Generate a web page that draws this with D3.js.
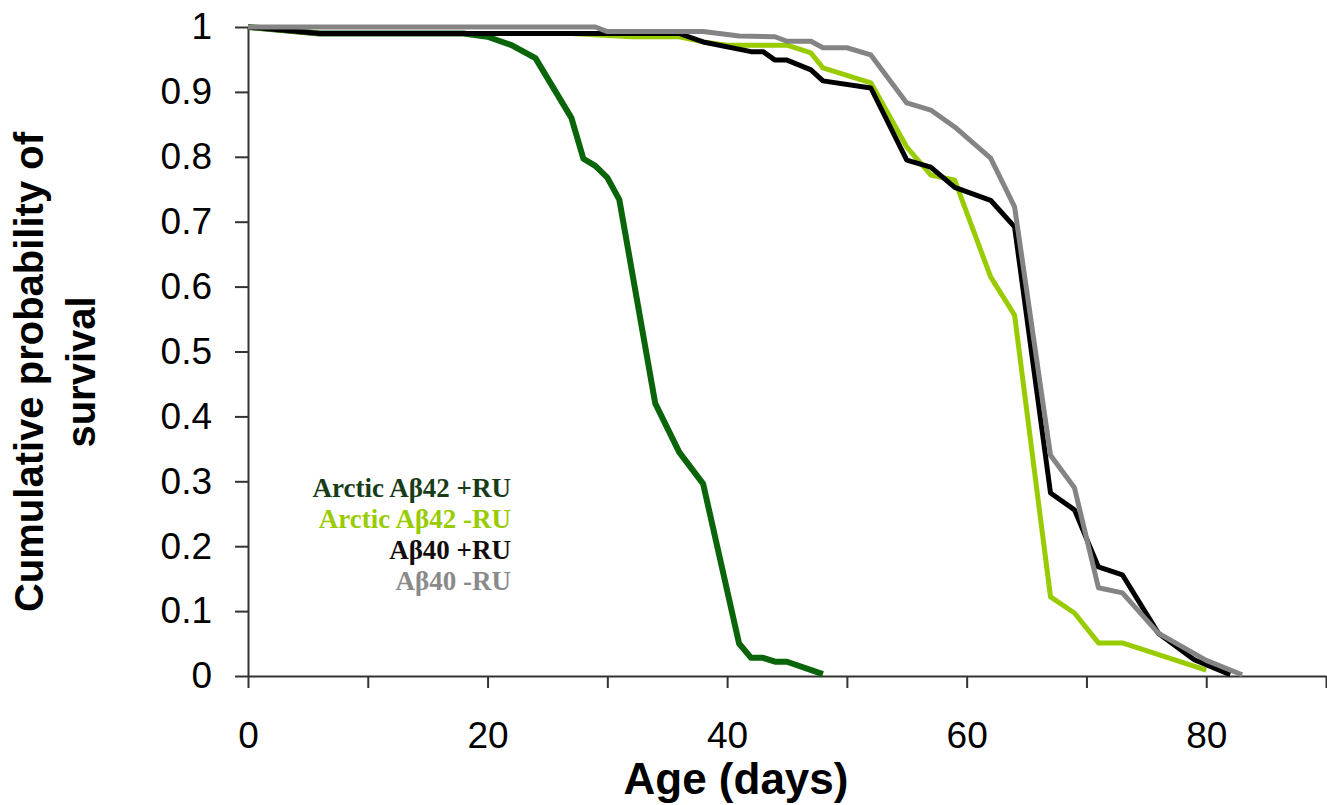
<!DOCTYPE html>
<html>
<head>
<meta charset="utf-8">
<script src="https://cdn.jsdelivr.net/npm/d3@7"></script>
<style>
    body { margin: 0; background: #fff; }
    svg { display: block; }
    .tick text { font-family: Arial, "Liberation Sans", sans-serif; font-size: 37px; fill: #000; }
    .axis path, .axis line { stroke: #333; stroke-width: 2px; }
</style>
</head>
<body>
<svg id="chart" width="1327" height="805"></svg>
<script>
// Data
const seriesNames = ["Arctic A\u03b242 +RU", "Arctic A\u03b242 -RU", "A\u03b240 +RU", "A\u03b240 -RU"]
const seriesColors = ["#0a640a", "#99cc00", "#000000", "#848484"]
const legendColors = ["#183c18", "#99cc00", "#140c0c", "#8a8a8a"]

const arcticPlusDays = [0, 6, 18, 20, 22, 24, 27, 28, 29, 30, 31, 34, 36, 38, 41, 42, 43, 44, 45, 48]
const arcticPlusSurv = [1, 0.99, 0.99, 0.985, 0.972, 0.952, 0.86, 0.797, 0.786, 0.768, 0.734, 0.42, 0.345, 0.296, 0.05, 0.028, 0.028, 0.022, 0.022, 0.003]

const arcticMinusDays = [0, 6, 27, 32, 36, 38, 40, 45, 47, 48, 52, 55, 57, 59, 62, 64, 67, 69, 71, 73, 80]
const arcticMinusSurv = [1, 0.99, 0.99, 0.985, 0.985, 0.977, 0.972, 0.972, 0.96, 0.937, 0.914, 0.815, 0.772, 0.764, 0.615, 0.556, 0.122, 0.097, 0.051, 0.051, 0.009]

const ab40PlusDays = [0, 6, 36, 38, 42, 43, 44, 45, 47, 48, 52, 55, 57, 59, 62, 64, 67, 69, 71, 73, 76, 79, 82]
const ab40PlusSurv = [1, 0.99, 0.99, 0.977, 0.962, 0.962, 0.949, 0.949, 0.934, 0.917, 0.906, 0.795, 0.784, 0.753, 0.733, 0.692, 0.282, 0.256, 0.168, 0.156, 0.066, 0.025, 0.002]

const ab40MinusDays = [0, 29, 30, 38, 41, 44, 45, 47, 48, 50, 52, 55, 57, 59, 62, 64, 67, 69, 71, 73, 76, 80, 83]
const ab40MinusSurv = [1, 1, 0.993, 0.993, 0.986, 0.985, 0.978, 0.978, 0.968, 0.968, 0.957, 0.883, 0.872, 0.846, 0.798, 0.723, 0.34, 0.29, 0.136, 0.128, 0.066, 0.024, 0.002]

const xTicks = [0, 10, 20, 30, 40, 50, 60, 70, 80, 90]
const xTickLabels = ["0", "", "20", "", "40", "", "60", "", "80", ""]
const yTicks = [0, 0.1, 0.2, 0.3, 0.4, 0.5, 0.6, 0.7, 0.8, 0.9, 1]
const yTickLabels = ["0", "0.1", "0.2", "0.3", "0.4", "0.5", "0.6", "0.7", "0.8", "0.9", "1"]

const svg = d3.select("#chart")

const xScale = d3.scaleLinear().domain([0, 90]).range([248, 1326])
const yScale = d3.scaleLinear().domain([0, 1]).range([676, 27])

// Build point lists for each curve
const allDays = [arcticPlusDays, arcticMinusDays, ab40PlusDays, ab40MinusDays]
const allSurv = [arcticPlusSurv, arcticMinusSurv, ab40PlusSurv, ab40MinusSurv]
const series = seriesNames.map((name, i) => ({
    name: name,
    color: seriesColors[i],
    points: allDays[i].map((d, j) => ({ day: d, p: allSurv[i][j] }))
}))

// Axes
svg.append("g")
    .attr("class", "axis")
    .attr("transform", `translate(0,${yScale(0)})`)
    .call(d3.axisBottom(xScale)
        .tickValues(xTicks)
        .tickSizeInner(12)
        .tickSizeOuter(0)
        .tickPadding(34)
        .tickFormat((d, i) => xTickLabels[i]))

svg.append("g")
    .attr("class", "axis")
    .attr("transform", `translate(${xScale(0)},0)`)
    .call(d3.axisLeft(yScale)
        .tickValues(yTicks)
        .tickSizeInner(13)
        .tickSizeOuter(0)
        .tickPadding(23)
        .tickFormat((d, i) => yTickLabels[i]))

// Survival curves
const line = d3.line()
    .x(d => xScale(d.day))
    .y(d => yScale(d.p))

svg.append("g")
    .selectAll("path")
    .data(series)
    .join("path")
    .attr("d", d => line(d.points))
    .attr("fill", "none")
    .attr("stroke", d => d.color)
    .attr("stroke-width", (d, i) => i === 0 ? 6 : 5)
    .attr("stroke-linejoin", "round")

// Axis titles
svg.append("text")
    .attr("x", 736)
    .attr("y", 794)
    .attr("text-anchor", "middle")
    .style("font-family", "Arial, 'Liberation Sans', sans-serif")
    .style("font-weight", "bold")
    .style("font-size", "44px")
    .text("Age (days)")

const yTitle = svg.append("text")
    .attr("transform", "translate(43,372) rotate(-90)")
    .attr("text-anchor", "middle")
    .style("font-family", "Arial, 'Liberation Sans', sans-serif")
    .style("font-weight", "bold")
    .style("font-size", "40px")
yTitle.append("tspan").attr("x", 0).attr("y", 0).text("Cumulative probability of")
yTitle.append("tspan").attr("x", 0).attr("y", 52).text("survival")

// Legend (text only, coloured by series)
svg.append("g")
    .selectAll("text")
    .data(seriesNames)
    .join("text")
    .attr("x", 511)
    .attr("y", (d, i) => 497 + i * 31)
    .attr("text-anchor", "end")
    .style("font-family", "'Times New Roman', 'Liberation Serif', serif")
    .style("font-weight", "bold")
    .style("font-size", "27px")
    .style("fill", (d, i) => legendColors[i])
    .text(d => d)
</script>
</body>
</html>
